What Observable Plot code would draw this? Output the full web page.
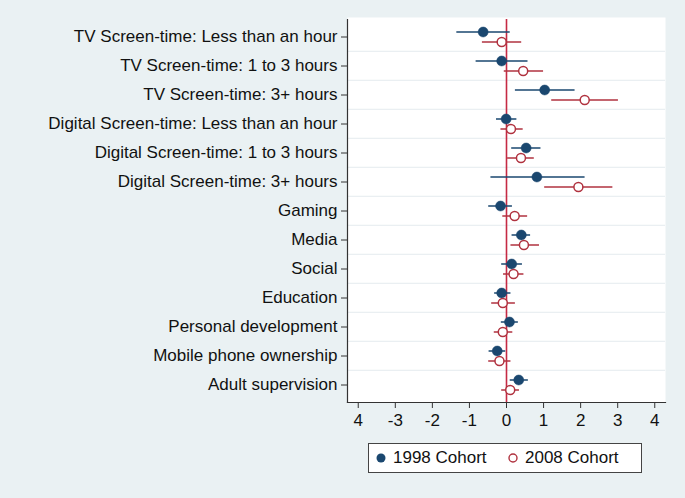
<!DOCTYPE html>
<html>
<head>
<meta charset="utf-8">
<script src="https://cdn.jsdelivr.net/npm/d3@7"></script>
<script src="https://cdn.jsdelivr.net/npm/@observablehq/plot@0.6"></script>
<style>
  html, body { margin: 0; padding: 0; background: #eaf1f3; }
  body { width: 685px; height: 498px; position: relative; overflow: hidden; font-family: "Liberation Sans", Arial, Helvetica, sans-serif; }
  #chart svg { display: block; background: transparent; }
  #legend { position: absolute; left: 368px; top: 443px; width: 272px; height: 28px; border: 1px solid #444; background: #fff; font-size: 17px; color: #111; }
  #legend .item { position: absolute; top: 4px; display: flex; align-items: center; }
  #legend svg { margin-right: 6px; }
</style>
</head>
<body>
<div id="chart"></div>
<div id="legend"></div>
<script>
const categories = [
  "TV Screen-time: Less than an hour",
  "TV Screen-time: 1 to 3 hours",
  "TV Screen-time: 3+ hours",
  "Digital Screen-time: Less than an hour",
  "Digital Screen-time: 1 to 3 hours",
  "Digital Screen-time: 3+ hours",
  "Gaming",
  "Media",
  "Social",
  "Education",
  "Personal development",
  "Mobile phone ownership",
  "Adult supervision"
];
const seriesNames = ["1998 Cohort", "2008 Cohort"];
// 1998 cohort: estimate, lower CI, upper CI
const est1998 = [-0.63, -0.13, 1.03, -0.01, 0.53, 0.82, -0.16, 0.40, 0.14, -0.13, 0.08, -0.25, 0.33];
const lo1998  = [-1.34, -0.82, 0.24, -0.27, 0.14, -0.42, -0.48, 0.15, -0.13, -0.32, -0.14, -0.47, 0.10];
const hi1998  = [0.10, 0.58, 1.85, 0.28, 0.93, 2.12, 0.16, 0.65, 0.43, 0.12, 0.32, -0.02, 0.59];
// 2008 cohort
const est2008 = [-0.13, 0.45, 2.11, 0.12, 0.39, 1.94, 0.22, 0.47, 0.19, -0.10, -0.10, -0.19, 0.10];
const lo2008  = [-0.65, -0.06, 1.22, -0.15, 0.03, 1.03, -0.10, 0.12, -0.08, -0.40, -0.33, -0.48, -0.13];
const hi2008  = [0.41, 1.00, 3.02, 0.45, 0.75, 2.87, 0.57, 0.89, 0.47, 0.24, 0.17, 0.12, 0.35];
const xTicks = [-4, -3, -2, -1, 0, 1, 2, 3, 4];
const xTickLabels = ["4", "-3", "-2", "-1", "0", "1", "2", "3", "4"];

const navy = "#1a476f";
const maroon = "#b0323f";
const zeroColor = "#c52a44";

const d1998 = categories.map((c, i) => ({cat: c, est: est1998[i], lo: lo1998[i], hi: hi1998[i]}));
const d2008 = categories.map((c, i) => ({cat: c, est: est2008[i], lo: lo2008[i], hi: hi2008[i]}));

const H = 438, marginTop = 19, marginBottom = 36;
const bw = (H - marginTop - marginBottom) / categories.length;

const chart = Plot.plot({
  width: 685,
  height: H,
  marginLeft: 347,
  marginRight: 20,
  marginTop,
  marginBottom,
  style: {fontFamily: "'Liberation Sans', Arial, Helvetica, sans-serif", background: "transparent"},
  x: {domain: [-4.29, 4.29]},
  y: {type: "band", domain: categories, padding: 0},
  marks: [
    Plot.frame({fill: "white", stroke: "none", insetTop: -2}),
    Plot.ruleY(categories.slice(1), {y: d => d, dy: -bw / 2, stroke: "#e4ebee", strokeWidth: 1}),
    Plot.ruleX([0], {stroke: zeroColor, strokeWidth: 1.6}),
    Plot.ruleY(d1998, {y: "cat", x1: "lo", x2: "hi", dy: -5, stroke: navy, strokeWidth: 1.5}),
    Plot.ruleY(d2008, {y: "cat", x1: "lo", x2: "hi", dy: 5, stroke: maroon, strokeWidth: 1.5}),
    Plot.dot(d1998, {x: "est", y: "cat", dy: -5, r: 5, fill: navy, stroke: navy, strokeWidth: 0.5}),
    Plot.dot(d2008, {x: "est", y: "cat", dy: 5, r: 4.5, fill: "white", stroke: maroon, strokeWidth: 1.5}),
    Plot.frame({anchor: "left", stroke: "#333", strokeWidth: 1.2}),
    Plot.frame({anchor: "bottom", stroke: "#333", strokeWidth: 1.2}),
    Plot.axisY({tickSize: 6, tickPadding: 4, fontSize: 17, stroke: "#333", color: "#111", label: null}),
    Plot.axisX(xTicks, {tickSize: 6, tickPadding: 5, fontSize: 17, stroke: "#333", color: "#111", label: null,
      tickFormat: v => xTickLabels[xTicks.indexOf(v)]})
  ]
});
document.getElementById("chart").appendChild(chart);

// legend
const legend = document.getElementById("legend");
const items = [
  {name: seriesNames[0], left: 6, svg: `<svg width="12" height="12"><circle cx="6" cy="6" r="4.5" fill="${navy}"/></svg>`},
  {name: seriesNames[1], left: 138, svg: `<svg width="12" height="12"><circle cx="6" cy="6" r="4" fill="white" stroke="${maroon}" stroke-width="1.4"/></svg>`}
];
for (const it of items) {
  const div = document.createElement("div");
  div.className = "item";
  div.style.left = it.left + "px";
  div.innerHTML = it.svg + `<span>${it.name}</span>`;
  legend.appendChild(div);
}
</script>
</body>
</html>
